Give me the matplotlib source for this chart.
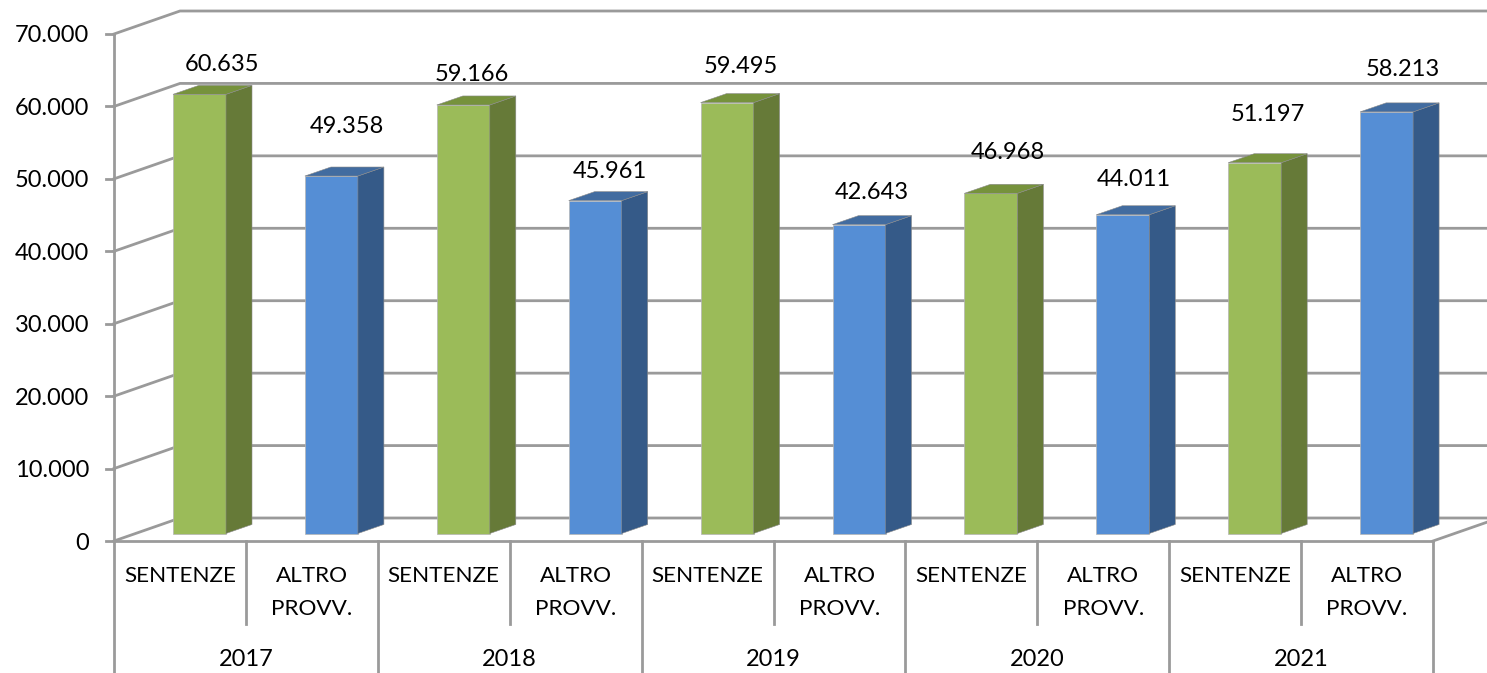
import matplotlib
matplotlib.use('Agg')
import matplotlib.pyplot as plt
from matplotlib.patches import Polygon

years = ['2017', '2018', '2019', '2020', '2021']
subcats = ['SENTENZE', 'ALTRO\nPROVV.']
sentenze = [60635, 59166, 59495, 46968, 51197]
altro = [49358, 45961, 42643, 44011, 58213]
yticks = [0, 10000, 20000, 30000, 40000, 50000, 60000, 70000]

# where excel dropped the data labels, pixels from the bar's front top centre
label_dx = [23, 15, 9, 15, 14, 13, 17, 11, 13, 16]
label_dy = [30, 50, 30, 29, 36, 32, 41, 35, 48, 42]

W, H = 1487, 673
X0, X1, Y0, Y1 = 114, 1433, 541, 34
GRAY = '#9a9a9a'
LW = 2.0
FS = 17
FS_CAT = 16.2
plt.rcParams['font.family'] = ['Lato', 'DejaVu Sans']

fig = plt.figure(figsize=(W / 100, H / 100), dpi=100)
ax = fig.add_axes([X0 / W, (H - Y0) / H, (X1 - X0) / W, (Y0 - Y1) / H])
ax.set_xlim(0, 10)
ax.set_ylim(0, 70000)
ax.axis('off')


def px_x(p):
    return p * 10 / (X1 - X0)


def px_y(p):
    return p * 70000 / (Y0 - Y1)


def fmt(v):
    return f'{v:,}'.replace(',', '.')


wall_x, wall_y = px_x(66), px_y(23)

# back wall and grid
for v in yticks:
    ax.plot([0, wall_x, 10.6], [v, v + wall_y, v + wall_y], color=GRAY, lw=LW, clip_on=False, zorder=1,
            solid_joinstyle='miter')
    ax.plot([-px_x(8), 0], [v, v], color=GRAY, lw=LW, clip_on=False, zorder=1)
    ax.text(-px_x(25), v - px_y(2), fmt(v), ha='right', va='center', fontsize=FS, color='black', clip_on=False)

# floor, right side
ax.plot([10, 10 + wall_x], [0, wall_y], color=GRAY, lw=LW, clip_on=False, zorder=1)

# bars
values = []
for s, a in zip(sentenze, altro):
    values += [s, a]
bar_w = px_x(53)
dep_x, dep_y = px_x(26), px_y(9)
base = px_y(7.5)
for i, v in enumerate(values):
    if i % 2 == 0:
        front, side, top = '#9BBB59', '#667A38', '#76923C'
    else:
        front, side, top = '#558ED5', '#355A88', '#426CA0'
    l = i + px_x(59)
    r = l + bar_w
    t = base + v
    ax.add_patch(Polygon([(l, base), (r, base), (r, t), (l, t)], fc=front, ec='#b5b5b5', lw=0.5, zorder=3, clip_on=False))
    ax.add_patch(Polygon([(r, base), (r + dep_x, base + dep_y), (r + dep_x, t + dep_y), (r, t)],
                         fc=side, ec='#8a8a8a', lw=0.4, zorder=3, clip_on=False))
    ax.add_patch(Polygon([(l, t), (l + dep_x, t + dep_y), (r + dep_x, t + dep_y), (r, t)],
                         fc=top, ec='#8a8a8a', lw=0.4, zorder=3, clip_on=False))
    ax.text((l + r) / 2 + px_x(label_dx[i]), t + px_y(label_dy[i]), fmt(v), ha='center', va='center',
            fontsize=FS, color='black', zorder=5, clip_on=False)

# category axis
ax.plot([0, 0], [0, 70000], color=GRAY, lw=LW, clip_on=False, zorder=2)
ax.plot([0, 10], [0, 0], color=GRAY, lw=LW, clip_on=False, zorder=4)
for i in range(11):
    low = 134 if i % 2 == 0 else 83
    ax.plot([i, i], [0, -px_y(low)], color=GRAY, lw=LW, clip_on=False, zorder=2)
for i in range(10):
    lines = subcats[i % 2].split('\n')
    for j, txt in enumerate(lines):
        ax.text(i + 0.5, -px_y(35 + j * 33), txt, ha='center', va='center', fontsize=FS_CAT, color='black', clip_on=False)
for i, y in enumerate(years):
    ax.text(2 * i + 1, -px_y(118), y, ha='center', va='center', fontsize=FS, color='black', clip_on=False)

fig.savefig('out.png', dpi=100, facecolor='white')
